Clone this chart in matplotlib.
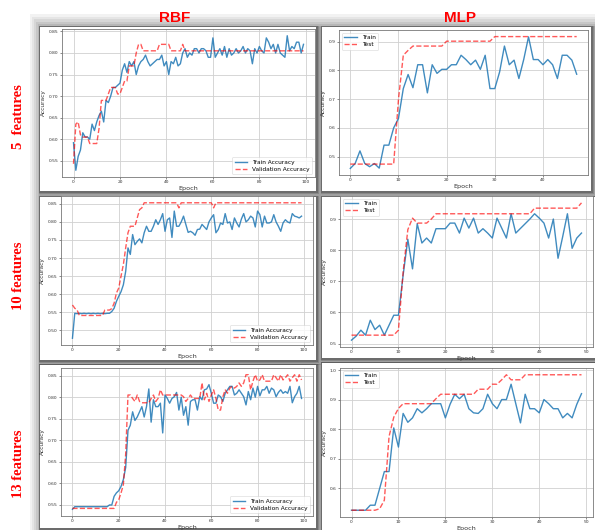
import numpy as np
import matplotlib
matplotlib.use("Agg")
import matplotlib.pyplot as plt
from matplotlib.patches import Rectangle

# ---------------- data ----------------
rbf5_train = [0.592, 0.528, 0.560, 0.575, 0.615, 0.605, 0.605, 0.600, 0.635, 0.620,
              0.640, 0.655, 0.665, 0.640, 0.690, 0.685, 0.700, 0.720, 0.720, 0.725,
              0.730, 0.760, 0.775, 0.755, 0.780, 0.770, 0.780, 0.750, 0.770, 0.780,
              0.785, 0.795, 0.780, 0.770, 0.775, 0.780, 0.785, 0.785, 0.795, 0.770,
              0.780, 0.750, 0.780, 0.775, 0.790, 0.770, 0.775, 0.800, 0.810, 0.790,
              0.800, 0.795, 0.810, 0.810, 0.800, 0.810, 0.810, 0.805, 0.790, 0.790,
              0.835, 0.790, 0.800, 0.810, 0.795, 0.815, 0.790, 0.810, 0.795, 0.800,
              0.810, 0.800, 0.805, 0.815, 0.800, 0.810, 0.805, 0.775, 0.810, 0.800,
              0.815, 0.805, 0.800, 0.835, 0.825, 0.810, 0.820, 0.800, 0.820, 0.800,
              0.795, 0.790, 0.840, 0.805, 0.815, 0.810, 0.825, 0.825, 0.800, 0.820]
rbf5_val = [0.543, 0.635, 0.640, 0.610, 0.605, 0.605, 0.605, 0.590, 0.590, 0.590,
            0.590, 0.625, 0.690, 0.690, 0.690, 0.705, 0.720, 0.720, 0.720, 0.705,
            0.705, 0.720, 0.735, 0.735, 0.770, 0.770, 0.770, 0.800, 0.820, 0.820,
            0.805, 0.805, 0.805, 0.805, 0.805, 0.805, 0.805, 0.820, 0.820, 0.820,
            0.820, 0.820, 0.805, 0.805, 0.805, 0.805, 0.805, 0.820, 0.805, 0.805,
            0.805, 0.805, 0.805, 0.805, 0.805, 0.805, 0.805, 0.805, 0.805, 0.805,
            0.805, 0.805, 0.805, 0.805, 0.805, 0.805, 0.805, 0.805, 0.805, 0.805,
            0.805, 0.805, 0.805, 0.805, 0.805, 0.805, 0.805, 0.805, 0.805, 0.805,
            0.805, 0.805, 0.805, 0.805, 0.805, 0.805, 0.805, 0.805, 0.805, 0.805,
            0.805, 0.805, 0.805, 0.805, 0.805, 0.805, 0.805, 0.805, 0.805, 0.805]

rbf10_train = [0.478, 0.547, 0.546, 0.547, 0.546, 0.547, 0.546, 0.547, 0.546, 0.547,
               0.546, 0.547, 0.546, 0.547, 0.546, 0.547, 0.547, 0.552, 0.561, 0.580,
               0.594, 0.607, 0.626, 0.663, 0.728, 0.710, 0.765, 0.737, 0.746, 0.753,
               0.742, 0.770, 0.788, 0.774, 0.774, 0.788, 0.806, 0.793, 0.806, 0.823,
               0.774, 0.806, 0.811, 0.757, 0.830, 0.788, 0.788, 0.800, 0.816, 0.793,
               0.771, 0.774, 0.770, 0.763, 0.779, 0.780, 0.793, 0.786, 0.779, 0.800,
               0.811, 0.820, 0.770, 0.779, 0.797, 0.793, 0.823, 0.797, 0.800, 0.779,
               0.811, 0.797, 0.786, 0.808, 0.823, 0.800, 0.806, 0.816, 0.811, 0.786,
               0.830, 0.820, 0.786, 0.816, 0.797, 0.797, 0.800, 0.820, 0.800, 0.788,
               0.774, 0.797, 0.806, 0.800, 0.797, 0.823, 0.816, 0.814, 0.811, 0.816]
rbf10_val = [0.570, 0.561, 0.556, 0.541, 0.541, 0.541, 0.541, 0.541, 0.541, 0.541,
             0.541, 0.541, 0.541, 0.541, 0.556, 0.556, 0.556, 0.560, 0.575, 0.603,
             0.617, 0.650, 0.682, 0.728, 0.770, 0.788, 0.788, 0.788, 0.811, 0.834,
             0.839, 0.853, 0.853, 0.853, 0.853, 0.853, 0.853, 0.853, 0.853, 0.853,
             0.853, 0.853, 0.853, 0.853, 0.853, 0.853, 0.839, 0.853, 0.853, 0.853,
             0.853, 0.853, 0.853, 0.853, 0.853, 0.853, 0.853, 0.853, 0.853, 0.853,
             0.853, 0.839, 0.853, 0.853, 0.853, 0.853, 0.853, 0.853, 0.853, 0.853,
             0.853, 0.853, 0.853, 0.853, 0.853, 0.853, 0.853, 0.853, 0.853, 0.853,
             0.853, 0.853, 0.853, 0.853, 0.853, 0.853, 0.853, 0.853, 0.853, 0.853,
             0.853, 0.853, 0.853, 0.853, 0.853, 0.853, 0.853, 0.853, 0.853, 0.853]

rbf13_train = [0.540, 0.546, 0.546, 0.546, 0.546, 0.546, 0.546, 0.546, 0.546, 0.546,
               0.546, 0.546, 0.546, 0.546, 0.546, 0.546, 0.550, 0.550, 0.570, 0.578,
               0.583, 0.593, 0.609, 0.637, 0.723, 0.735, 0.766, 0.746, 0.754, 0.766,
               0.778, 0.754, 0.778, 0.819, 0.742, 0.794, 0.778, 0.778, 0.786, 0.717,
               0.805, 0.797, 0.786, 0.797, 0.801, 0.811, 0.770, 0.800, 0.758, 0.778,
               0.735, 0.790, 0.794, 0.794, 0.770, 0.801, 0.794, 0.817, 0.819, 0.829,
               0.809, 0.786, 0.786, 0.805, 0.801, 0.790, 0.809, 0.817, 0.825, 0.825,
               0.805, 0.809, 0.817, 0.809, 0.801, 0.782, 0.813, 0.794, 0.821, 0.800,
               0.825, 0.803, 0.817, 0.817, 0.825, 0.809, 0.821, 0.817, 0.801, 0.811,
               0.817, 0.809, 0.813, 0.809, 0.825, 0.787, 0.801, 0.809, 0.825, 0.797]
rbf13_val = [0.542, 0.542, 0.542, 0.542, 0.542, 0.542, 0.542, 0.542, 0.542, 0.542,
             0.542, 0.542, 0.542, 0.542, 0.542, 0.542, 0.542, 0.542, 0.542, 0.556,
             0.562, 0.578, 0.597, 0.668, 0.805, 0.805, 0.797, 0.790, 0.805, 0.790,
             0.787, 0.787, 0.787, 0.787, 0.797, 0.805, 0.790, 0.797, 0.817, 0.805,
             0.805, 0.805, 0.805, 0.805, 0.805, 0.805, 0.805, 0.805, 0.801, 0.790,
             0.797, 0.805, 0.797, 0.797, 0.797, 0.797, 0.833, 0.794, 0.809, 0.790,
             0.805, 0.817, 0.797, 0.770, 0.770, 0.801, 0.817, 0.809, 0.821, 0.825,
             0.821, 0.825, 0.833, 0.825, 0.833, 0.852, 0.852, 0.817, 0.837, 0.852,
             0.837, 0.840, 0.852, 0.837, 0.837, 0.837, 0.837, 0.852, 0.845, 0.837,
             0.852, 0.840, 0.845, 0.852, 0.837, 0.845, 0.852, 0.837, 0.852, 0.840]

mlp5_train = [0.459, 0.476, 0.520, 0.476, 0.465, 0.476, 0.460, 0.540, 0.540, 0.600,
              0.633, 0.737, 0.786, 0.740, 0.820, 0.820, 0.722, 0.820, 0.790, 0.804,
              0.804, 0.820, 0.820, 0.853, 0.838, 0.820, 0.836, 0.804, 0.853, 0.737,
              0.737, 0.795, 0.885, 0.820, 0.836, 0.772, 0.838, 0.917, 0.838, 0.838,
              0.820, 0.838, 0.820, 0.772, 0.853, 0.853, 0.836, 0.787]
mlp5_test = [0.474, 0.474, 0.474, 0.474, 0.474, 0.474, 0.474, 0.474, 0.474, 0.474,
             0.700, 0.853, 0.870, 0.885, 0.885, 0.885, 0.885, 0.885, 0.885, 0.885,
             0.902, 0.902, 0.902, 0.902, 0.902, 0.902, 0.902, 0.902, 0.902, 0.902,
             0.918, 0.918, 0.918, 0.918, 0.918, 0.918, 0.918, 0.918, 0.918, 0.918,
             0.918, 0.918, 0.918, 0.918, 0.918, 0.918, 0.918, 0.918]

mlp10_train = [0.511, 0.524, 0.543, 0.527, 0.575, 0.545, 0.559, 0.527, 0.559, 0.591,
               0.591, 0.720, 0.835, 0.740, 0.885, 0.823, 0.839, 0.823, 0.869, 0.869,
               0.869, 0.887, 0.887, 0.855, 0.903, 0.871, 0.903, 0.855, 0.869, 0.855,
               0.839, 0.903, 0.871, 0.839, 0.917, 0.855, 0.870, 0.885, 0.900, 0.917,
               0.903, 0.887, 0.839, 0.900, 0.774, 0.844, 0.917, 0.806, 0.839, 0.855]
mlp10_test = [0.527, 0.527, 0.527, 0.527, 0.527, 0.527, 0.527, 0.527, 0.527, 0.527,
              0.543, 0.730, 0.866, 0.903, 0.887, 0.887, 0.887, 0.900, 0.917, 0.917,
              0.917, 0.917, 0.917, 0.917, 0.917, 0.917, 0.917, 0.917, 0.917, 0.917,
              0.917, 0.917, 0.917, 0.917, 0.917, 0.917, 0.917, 0.917, 0.917, 0.935,
              0.935, 0.935, 0.935, 0.935, 0.935, 0.935, 0.935, 0.935, 0.935, 0.952]

mlp13_train = [0.525, 0.525, 0.525, 0.525, 0.542, 0.542, 0.599, 0.656, 0.656, 0.804,
               0.739, 0.853, 0.823, 0.838, 0.869, 0.855, 0.869, 0.886, 0.886, 0.886,
               0.838, 0.884, 0.918, 0.903, 0.918, 0.869, 0.855, 0.853, 0.869, 0.918,
               0.886, 0.869, 0.900, 0.900, 0.952, 0.886, 0.821, 0.918, 0.869, 0.869,
               0.855, 0.900, 0.886, 0.869, 0.869, 0.838, 0.853, 0.838, 0.884, 0.920]
mlp13_test = [0.525, 0.525, 0.525, 0.525, 0.525, 0.525, 0.530, 0.559, 0.775, 0.840,
              0.870, 0.886, 0.886, 0.886, 0.886, 0.886, 0.886, 0.886, 0.903, 0.918,
              0.918, 0.918, 0.918, 0.918, 0.918, 0.918, 0.918, 0.935, 0.935, 0.935,
              0.952, 0.952, 0.967, 0.984, 0.967, 0.967, 0.967, 0.984, 0.984, 0.984,
              0.984, 0.984, 0.984, 0.984, 0.984, 0.984, 0.984, 0.984, 0.984, 0.984]

col_titles = ["RBF", "MLP"]
row_titles = ["5  features", "10 features", "13 features"]
rbf_labels = ["Train Accuracy", "Validation Accuracy"]
mlp_labels = ["Train", "Test"]

# ---------------- layout ----------------
W, H = 595, 530
fig = plt.figure(figsize=(W / 100, H / 100), dpi=100)
fig.patch.set_facecolor("white")

bg = fig.add_axes([0, 0, 1, 1], zorder=-10)
bg.set_xlim(0, W)
bg.set_ylim(H, 0)
bg.axis("off")

# soft gray band on the top and left
for i, a in enumerate([0.05, 0.05, 0.06, 0.07, 0.08]):
    bg.add_patch(Rectangle((30 + i * 2, 14 + i * 2.5), W, H, facecolor="black",
                           alpha=a, linewidth=0))

boxes = [(40, 27, 316, 191), (322, 27, 591, 191),
         (40, 197, 316, 360), (322, 197, 595, 358),
         (40, 365, 316, 528), (322, 363, 595, 530)]
for (l, t, r, b) in boxes:
    for pad, a in [(5, 0.12), (3, 0.15), (1.5, 0.2)]:
        bg.add_patch(Rectangle((l - 1, t - 1), r - l + pad + 1, b - t + pad + 1,
                               facecolor="black", alpha=a, linewidth=0))
    bg.add_patch(Rectangle((l, t), r - l, b - t, facecolor="white", linewidth=0))


def ax_at(l, t, r, b):
    return fig.add_axes([l / W, 1 - b / H, (r - l) / W, (b - t) / H])


axes_px = [(62, 29, 315, 177), (339, 30, 588, 175),
           (61, 196, 313, 345), (340, 196, 593, 347),
           (61, 368, 313, 516), (340, 368, 593, 517)]

panels = [(rbf5_train, rbf5_val, rbf_labels, "lower right"),
          (mlp5_train, mlp5_test, mlp_labels, "upper left"),
          (rbf10_train, rbf10_val, rbf_labels, "lower right"),
          (mlp10_train, mlp10_test, mlp_labels, "upper left"),
          (rbf13_train, rbf13_val, rbf_labels, "lower right"),
          (mlp13_train, mlp13_test, mlp_labels, "upper left")]

for (px, (tr, va, labs, loc)) in zip(axes_px, panels):
    ax = ax_at(*px)
    ax.plot(np.arange(len(tr)), tr, color="#1f77b4", lw=1.0, alpha=0.85, label=labs[0])
    ax.plot(np.arange(len(va)), va, "--", color="red", lw=1.0, alpha=0.65, label=labs[1])
    ax.grid(True, color="#d0d0d0", lw=0.6)
    ax.tick_params(labelsize=3.2, length=1.5, width=0.4, pad=1, colors="#333")
    for s in ax.spines.values():
        s.set_linewidth(0.6)
        s.set_color("#777")
    ax.set_xlabel("Epoch", fontsize=4.6, labelpad=1, color="#333")
    ax.set_ylabel("Accuracy", fontsize=4.2, labelpad=2, color="#333")
    leg = ax.legend(loc=loc, fontsize=4.2, handlelength=2.2, borderpad=0.4,
                    labelspacing=0.35, framealpha=0.8)
    leg.get_frame().set_linewidth(0.4)

# column headers
fig.text(175 / W, 1 - 18 / H, col_titles[0], color="red", fontsize=11,
         fontweight="bold", family="Liberation Sans", ha="center", va="center")
fig.text(460 / W, 1 - 18 / H, col_titles[1], color="red", fontsize=11,
         fontweight="bold", family="Liberation Sans", ha="center", va="center")

# row headers
for yc, txt in zip([117, 276, 464], row_titles):
    fig.text(18 / W, 1 - yc / H, txt, color="red", fontsize=10.5, fontweight="bold",
             family="Liberation Serif", rotation=90, ha="center", va="center")

fig.savefig("out.png", dpi=100)
